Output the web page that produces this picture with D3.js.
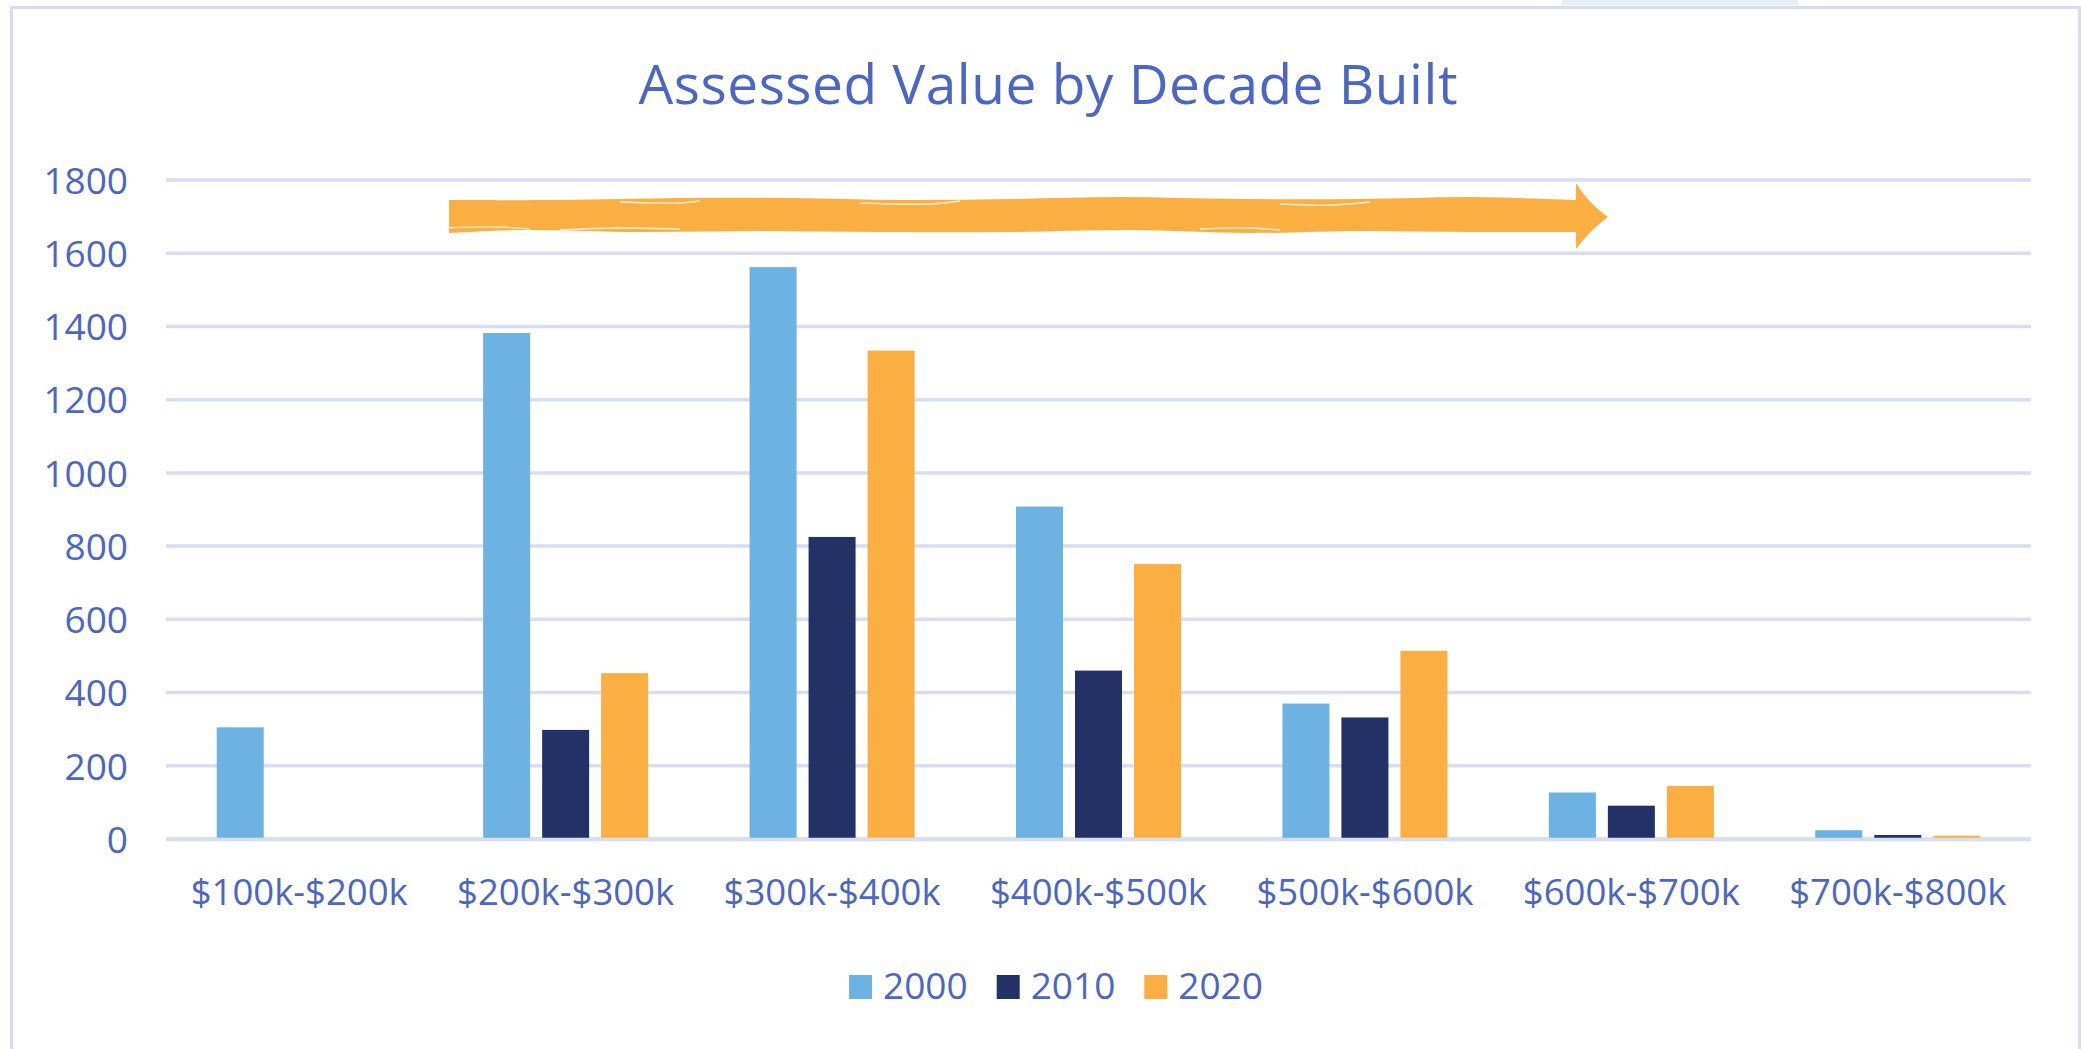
<!DOCTYPE html>
<html>
<head>
<meta charset="utf-8">
<script src="https://cdn.jsdelivr.net/npm/d3@7"></script>
<style>
  body { margin: 0; background: #fff; }
  svg { display: block; }
  text { font-family: "Open Sans", sans-serif; fill: #4b66c6; }
</style>
</head>
<body>
<div id="chart"></div>
<script>
// data
var categories = ["$100k-$200k", "$200k-$300k", "$300k-$400k", "$400k-$500k", "$500k-$600k", "$600k-$700k", "$700k-$800k"];
var years = ["2000", "2010", "2020"];
var values2000 = [305, 1382, 1562, 908, 370, 127, 24];
var values2010 = [0, 298, 825, 460, 332, 91, 11];
var values2020 = [0, 453, 1334, 751, 514, 145, 9];
var yTicks = [0, 200, 400, 600, 800, 1000, 1200, 1400, 1600, 1800];
var colors = ["#6cb2e2", "#223166", "#fbae41"];

var series = [values2000, values2010, values2020];

var width = 2081, height = 1049;

var svg = d3.select("#chart")
    .append("svg")
    .attr("width", width)
    .attr("height", height);

// chart frame
svg.append("rect")
    .attr("x", 1562).attr("y", 0)
    .attr("width", 236).attr("height", 5)
    .attr("fill", "#e2eef8");
svg.append("path")
    .attr("d", "M11.5," + height + "V7.5H2079.5V" + height)
    .attr("fill", "none")
    .attr("stroke", "#d6dcf1")
    .attr("stroke-width", 3);

// scales
var x = d3.scaleBand().domain(categories).range([166, 2031]);
var x1 = d3.scaleBand().domain(years).range([-82.5, 82.5]).paddingInner(0.2034);
var y = d3.scaleLinear().domain([0, 1800]).range([839, 180]);

// gridlines
svg.append("g")
    .selectAll("line")
    .data(yTicks)
    .enter().append("line")
    .attr("x1", x.range()[0])
    .attr("x2", x.range()[1])
    .attr("y1", function(d){ return y(d); })
    .attr("y2", function(d){ return y(d); })
    .attr("stroke", "#d7ddf2")
    .attr("stroke-width", 3.5);

// y labels
var yAxisCall = d3.axisLeft(y).tickValues(yTicks).tickFormat(d3.format("d")).tickSize(0).tickPadding(0);
var yAxis = svg.append("g")
    .attr("transform", "translate(128,0)")
    .call(yAxisCall);
yAxis.select(".domain").remove();
yAxis.selectAll("text")
    .attr("font-size", "37px")
    .attr("fill", null)
    .attr("dy", "0.36em");

// bars
var groups = svg.append("g")
    .selectAll("g")
    .data(years)
    .enter().append("g")
    .attr("fill", function(d, i){ return colors[i]; });

groups.selectAll("rect")
    .data(function(d, i){
        return categories.map(function(c, j){ return { cat: c, year: d, value: series[i][j] }; });
    })
    .enter().append("rect")
    .filter(function(d){ return d.value > 0; })
    .attr("x", function(d){ return x(d.cat) + x.bandwidth() / 2 + x1(d.year); })
    .attr("width", x1.bandwidth())
    .attr("y", function(d){ return y(d.value); })
    .attr("height", function(d){ return y(0) - y(d.value); });

// zero line over the bar bases
svg.append("line")
    .attr("x1", x.range()[0]).attr("x2", x.range()[1])
    .attr("y1", y(0) + 0.5).attr("y2", y(0) + 0.5)
    .attr("stroke", "#d7ddf2")
    .attr("stroke-width", 3.5);

// x labels
var xAxisCall = d3.axisBottom(x).tickSize(0).tickPadding(0);
var xAxis = svg.append("g")
    .attr("transform", "translate(0,905)")
    .call(xAxisCall);
xAxis.select(".domain").remove();
xAxis.selectAll("text")
    .attr("font-size", "36.5px")
    .attr("fill", null)
    .attr("dy", 0);

// title
svg.append("text")
    .attr("x", 1048)
    .attr("y", 104)
    .attr("text-anchor", "middle")
    .attr("font-size", "55px")
    .attr("textLength", 819)
    .attr("lengthAdjust", "spacing")
    .text("Assessed Value by Decade Built");

// legend
var legend = svg.append("g");
var lx = 0;
years.forEach(function(yr, i){
    var item = legend.append("g").attr("transform", "translate(" + lx + ",0)");
    item.append("rect")
        .attr("x", 0).attr("y", 975)
        .attr("width", 23).attr("height", 24)
        .attr("fill", colors[i]);
    var t = item.append("text")
        .attr("x", 34).attr("y", 999)
        .attr("font-size", "37px")
        .text(yr);
    lx += 34 + t.node().getComputedTextLength() + 29;
});
var legendW = lx - 29;
legend.attr("transform", "translate(" + (1056 - legendW / 2) + ",0)");

// hand-drawn orange arrow
var topEdge = [[449,200],[560,200],[680,198],[790,198],[900,200],[1010,199],[1120,197],[1240,199],[1360,199],[1470,197],[1576,200]];
var bottomEdge = [[1576,232],[1470,232],[1360,231],[1250,233],[1130,230],[1010,232],[880,232],[760,231],[640,232],[520,230],[449,233]];
var edge = d3.line().curve(d3.curveCatmullRom);
var arrowPath = edge(topEdge) +
    "L1576,183Q1588,203 1608,217Q1590,230 1576,249L1576,232" +
    edge(bottomEdge).replace(/^M/, "L") + "Z";
svg.append("path")
    .attr("d", arrowPath)
    .attr("fill", "#fbae41");

// white streaks of the marker
var streaks = [
    [[620,202],[680,203],[700,201]],
    [[860,203],[930,204],[960,201]],
    [[1280,204],[1330,205],[1370,202]],
    [[560,230],[620,228],[680,229]],
    [[1200,229],[1250,228],[1280,230]],
    [[440,228],[500,227],[530,229]]
];
svg.append("g")
    .selectAll("path")
    .data(streaks)
    .enter().append("path")
    .attr("d", function(d){ return edge(d); })
    .attr("fill", "none")
    .attr("stroke", "#fff")
    .attr("stroke-width", 1.3)
    .attr("stroke-opacity", 0.8);
</script>
</body>
</html>
